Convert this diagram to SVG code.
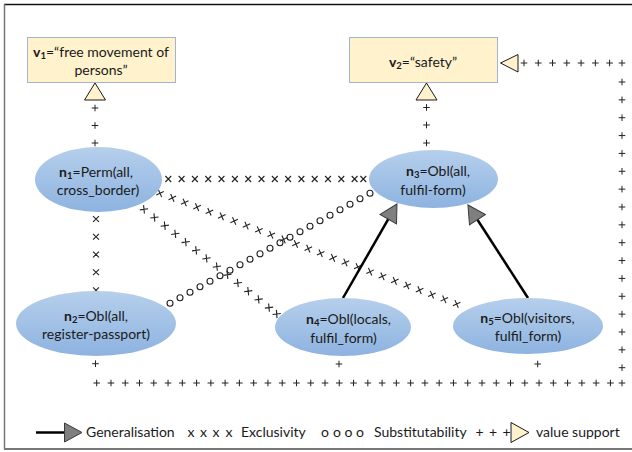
<svg xmlns="http://www.w3.org/2000/svg" width="632" height="452" viewBox="0 0 632 452">
<style>
text{font-family:Lato,"Liberation Sans",sans-serif;font-size:14px;fill:#1a1a1a}
.c{text-anchor:middle}
.b{font-weight:bold}
.s{font-size:9.5px;font-weight:bold}
.val{fill:#fff2cc;stroke:#9fb5d1;stroke-width:1}
.tri{fill:#fff2cc;stroke:#1a1a1a;stroke-width:1}
.nd{fill:url(#ng)}
.gen{stroke:#000;stroke-width:2.5;fill:none;marker-end:url(#mg)}
.pl{fill:none;stroke:none;marker-start:url(#mp);marker-mid:url(#mp);marker-end:url(#mp)}
.pl1{fill:none;stroke:none;marker-start:url(#mp)}
.ex{fill:none;stroke:none;marker-start:url(#mx);marker-mid:url(#mx);marker-end:url(#mx)}
.sb{fill:none;stroke:none;marker-start:url(#mo);marker-mid:url(#mo);marker-end:url(#mo)}
</style>
<defs>
<linearGradient id="ng" x1="0" y1="0" x2="0" y2="1">
<stop offset="0" stop-color="#b6cfec"/>
<stop offset="1" stop-color="#8db3e0"/>
</linearGradient>
<marker id="mp" markerUnits="userSpaceOnUse" viewBox="-5 -5 10 10" markerWidth="10" markerHeight="10" refX="0" refY="0" orient="0">
<path d="M-3.3,0H3.3M0,-3.3V3.3" stroke="#222" stroke-width="1" fill="none"/>
</marker>
<marker id="mx" markerUnits="userSpaceOnUse" viewBox="-5 -5 10 10" markerWidth="10" markerHeight="10" refX="0" refY="0" orient="auto">
<path d="M-2.9,-3L2.9,3M-2.9,3L2.9,-3" stroke="#222" stroke-width="1.1" fill="none"/>
</marker>
<marker id="mo" markerUnits="userSpaceOnUse" viewBox="-5 -5 10 10" markerWidth="10" markerHeight="10" refX="0" refY="0" orient="0">
<circle cx="0" cy="0" r="3" stroke="#222" stroke-width="1.1" fill="none"/>
</marker>
<marker id="mg" markerUnits="userSpaceOnUse" viewBox="-1 -11 20 22" markerWidth="20" markerHeight="22" refX="9.5" refY="0" orient="auto">
<path d="M0,-9.5L17.5,0L0,9.5Z" fill="#7f7f7f" stroke="#3a3a3a" stroke-width="1"/>
</marker>
</defs>

<g id="frame">
<line x1="4" y1="4.5" x2="632" y2="4.5" stroke="#111" stroke-width="1.5"/>
<line x1="4.5" y1="4" x2="4.5" y2="449" stroke="#777" stroke-width="1.5"/>
<line x1="4" y1="449" x2="632" y2="449" stroke="#777" stroke-width="2"/>
</g>

<g id="connectors">
<!-- value support -->
<path class="pl" d="M95,108 L95,125.5 L95,143"/>
<polygon class="tri" points="95,83 84.5,100 105.5,100"/>
<path class="pl" d="M426.5,107.5 L426.5,125 L426.5,143"/>
<polygon class="tri" points="426.5,83 416,100 437,100"/>
<path class="pl" d="M95.5,363.7 L96.7,383 L110.97,383 L125.24,383 L139.51,383 L153.78,383 L168.05,383 L182.32,383 L196.59,383 L210.86,383 L225.13,383 L239.4,383 L253.67,383 L267.94,383 L282.21,383 L296.48,383 L310.75,383 L325.02,383 L339.29,383 L353.56,383 L367.83,383 L382.1,383 L396.37,383 L410.64,383 L424.91,383 L439.18,383 L453.45,383 L467.72,383 L481.99,383 L496.26,383 L510.53,383 L524.8,383 L539.07,383 L553.34,383 L567.61,383 L581.88,383 L596.15,383 L610.42,383 L622,383 L622,367.7 L622,349.84 L622,331.98 L622,314.13 L622,296.27 L622,278.42 L622,260.56 L622,242.7 L622,224.85 L622,206.99 L622,189.14 L622,171.28 L622,153.42 L622,135.57 L622,117.71 L622,99.86 L622,82 L622,63 L609.62,63 L595.35,63 L581.08,63 L566.81,63 L552.54,63 L538.27,63 L524,63"/>
<polygon class="tri" points="500.5,63 518,54.5 518,72"/>
<path class="pl1" d="M339,364 L339,364.01"/>
<path class="pl1" d="M537.7,364 L537.7,364.01"/>
<!-- exclusivity -->
<path class="ex" d="M168.3,179 L181.6,179 L194.9,179 L208.2,179 L221.5,179 L234.9,179 L248.2,179 L261.5,179 L274.8,179 L288.1,179 L301.4,179 L314.7,179 L328,179 L341.3,179 L354.6,179 L363.3,179"/>
<path class="ex" d="M96,219 L96,236.8 L96,254.5 L96,272.3 L96,290.3"/>
<path class="ex" d="M144,209.3 L154.4,217.5 L164.8,225.7 L175.3,233.9 L185.7,242.1 L196.1,250.3 L206.5,258.4 L216.9,266.6 L227.4,274.8 L237.8,283 L248.2,291.2 L258.6,299.4 L269,307.6 L276.7,314"/>
<path class="ex" d="M160,193.3 L172.36,197.91 L184.72,202.52 L197.08,207.13 L209.44,211.74 L221.8,216.35 L234.16,220.96 L246.52,225.57 L258.88,230.18 L271.24,234.79 L283.6,239.4 L295.96,244.01 L308.32,248.62 L320.68,253.23 L333.04,257.84 L345.4,262.45 L357.76,267.06 L370.12,271.67 L382.48,276.28 L394.84,280.89 L407.2,285.5 L419.56,290.11 L431.92,294.72 L444.28,299.33 L456.64,303.94"/>
<!-- substitutability -->
<path class="sb" d="M170,303.3 L180,297.8 L190,292.3 L200,286.8 L210,281.3 L220,275.8 L230,270.3 L240,264.8 L250,259.3 L260,253.8 L270,248.3 L280,242.8 L290,237.3 L300,231.8 L310,226.3 L320,220.8 L330,215.3 L340,209.8 L350,204.3 L360,198.8 L370,193.3"/>
<!-- generalisation -->
<path class="gen" d="M343,298 L393,210.9"/>
<path class="gen" d="M528,298 L472.3,211.7"/>
</g>

<g id="v1">
<rect class="val" x="27.5" y="37.5" width="148" height="45"/>
<text class="c" x="101" y="56.5"><tspan class="b">v</tspan><tspan class="s" dy="2">1</tspan><tspan dy="-2">=“free movement of</tspan></text>
<text class="c" x="101" y="75">persons”</text>
</g>
<g id="v2">
<rect class="val" x="349.5" y="37.5" width="148" height="45"/>
<text class="c" x="423" y="67"><tspan class="b">v</tspan><tspan class="s" dy="2">2</tspan><tspan dy="-2">=“safety”</tspan></text>
</g>

<g id="n1">
<ellipse class="nd" cx="98.5" cy="179.5" rx="63.5" ry="32.5"/>
<text class="c" x="96" y="176.5"><tspan class="b">n</tspan><tspan class="s" dy="2">1</tspan><tspan dy="-2">=Perm(all,</tspan></text>
<text class="c" x="98" y="195">cross_border)</text>
</g>
<g id="n2">
<ellipse class="nd" cx="96" cy="323.5" rx="80" ry="32.5"/>
<text class="c" x="96" y="320.5"><tspan class="b">n</tspan><tspan class="s" dy="2">2</tspan><tspan dy="-2">=Obl(all,</tspan></text>
<text class="c" x="96" y="339">register-passport)</text>
</g>
<g id="n3">
<ellipse class="nd" cx="433.5" cy="179" rx="64.5" ry="29"/>
<text class="c" x="438" y="176"><tspan class="b">n</tspan><tspan class="s" dy="2">3</tspan><tspan dy="-2">=Obl(all,</tspan></text>
<text class="c" x="433" y="194.5">fulfil-form)</text>
</g>
<g id="n4">
<ellipse class="nd" cx="343" cy="327" rx="68" ry="29"/>
<text class="c" x="348.5" y="324"><tspan class="b">n</tspan><tspan class="s" dy="2">4</tspan><tspan dy="-2">=Obl(locals,</tspan></text>
<text class="c" x="343.5" y="342.5">fulfil_form)</text>
</g>
<g id="n5">
<ellipse class="nd" cx="528" cy="326" rx="75" ry="28"/>
<text class="c" x="527.5" y="322.5"><tspan class="b">n</tspan><tspan class="s" dy="2">5</tspan><tspan dy="-2">=Obl(visitors,</tspan></text>
<text class="c" x="528" y="341">fulfil_form)</text>
</g>

<g id="legend">
<path class="gen" d="M36,432.5 L74,432.5"/>
<text x="86" y="437">Generalisation</text>
<text class="c" x="191" y="437">x</text>
<text class="c" x="203.5" y="437">x</text>
<text class="c" x="216" y="437">x</text>
<text class="c" x="229" y="437">x</text>
<text x="241" y="437">Exclusivity</text>
<text class="c" x="325" y="437">o</text>
<text class="c" x="337" y="437">o</text>
<text class="c" x="348.5" y="437">o</text>
<text class="c" x="360" y="437">o</text>
<text x="374" y="437">Substitutability</text>
<text class="c" x="479.5" y="437">+</text>
<text class="c" x="493" y="437">+</text>
<text class="c" x="506.5" y="437">+</text>
<polygon class="tri" points="511,422.5 529,432.5 511,442.5"/>
<text x="536" y="437">value support</text>
</g>
</svg>
